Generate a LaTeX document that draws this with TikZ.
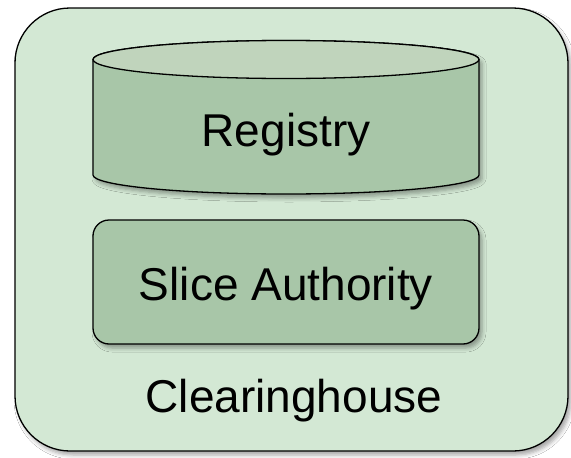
\documentclass[tikz,border=0pt]{standalone}
\usepackage{fontspec}
\setmainfont{Liberation Sans}
\usetikzlibrary{shadows.blur}
\definecolor{outergreen}{RGB}{211,232,212}
\definecolor{boxgreen}{RGB}{168,198,168}
\definecolor{topgreen}{RGB}{192,212,188}
\tikzset{
    part/.style={draw=black, line width=1.3pt, fill=boxgreen, blur shadow={shadow xshift=3pt, shadow yshift=-4pt, shadow blur radius=4pt, shadow opacity=35}},
    label/.style={font=\fontsize{46}{50}\selectfont, anchor=base, inner sep=0pt}
}
\begin{document}
\begin{tikzpicture}[x=1pt, y=-1pt]
        \useasboundingbox (0, 0) rectangle (571, 458);
        \fill[white] (0, 0) rectangle (571, 458);
        % clearinghouse
        \draw[part, fill=outergreen, rounded corners=55pt] (15, 8) rectangle (568, 451);
        % registry cylinder
        \draw[part] (93, 59.5) -- (93, 175) arc[start angle=180, end angle=360, x radius=193, y radius=-19] -- (479, 59.5) arc[start angle=0, end angle=180, x radius=193, y radius=-19] -- cycle;
        \draw[line width=1.3pt, fill=topgreen] (286, 59.5) ellipse[x radius=193, y radius=19];
        % slice authority
        \draw[part, rounded corners=16pt] (93, 220) rectangle (479, 344);
        \node[label] (registry) at (286, 146) {Registry};
        \node[label] (sa) at (286, 300) {Slice Authority};
        \node[label] (ch) at (294, 412) {Clearinghouse};
    \end{tikzpicture}
\end{document}
